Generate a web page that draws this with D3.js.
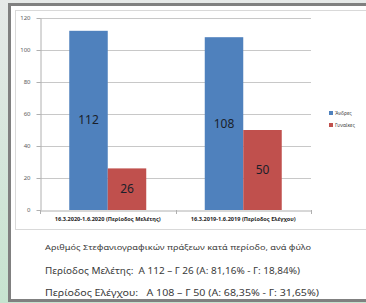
<!DOCTYPE html>
<html><head><meta charset="utf-8">
<script src="https://cdn.jsdelivr.net/npm/d3@7"></script>
<style>html,body{margin:0;padding:0;background:#fff;}svg{display:block;}</style>
</head><body>
<script>
const categories = ["16.3.2020-1.6.2020 (Περίοδος Μελέτης)", "16.3.2019-1.6.2019 (Περίοδος Ελέγχου)"];
const seriesNames = ["Άνδρες", "Γυναίκες"];
const men = [112, 108];
const women = [26, 50];
const yTicks = [0, 20, 40, 60, 80, 100, 120];
const captionLines = [
  "Αριθμός Στεφανιογραφικών πράξεων κατά περίοδο, ανά φύλο",
  "Περίοδος Μελέτης:\u00a0\u00a0Α 112 – Γ 26 (Α: 81,16% - Γ: 18,84%)",
  "Περίοδος Ελέγχου:\u00a0\u00a0\u00a0Α 108 – Γ 50 (Α: 68,35% - Γ: 31,65%)"
];
const colors = ["#4f81bd", "#c0504d"];
const seriesValues = [men, women];

(function () {
const W = 366, H = 303;
const FONT = "'Noto Sans', 'Open Sans', sans-serif";
const svg = d3.select("body").append("svg").attr("width", W).attr("height", H);
const defs = svg.append("defs");
const g1 = defs.append("linearGradient").attr("id", "bg").attr("x1", 0).attr("y1", 0).attr("x2", 0).attr("y2", 1);
g1.append("stop").attr("offset", "0%").attr("stop-color", "#e6e9e8");
g1.append("stop").attr("offset", "100%").attr("stop-color", "#c6e3cf");
svg.append("rect").attr("width", W).attr("height", H).attr("fill", "url(#bg)");

svg.append("rect").attr("x", 9.5).attr("y", 4.5).attr("width", 420).attr("height", 296)
  .attr("fill", "#fff").attr("stroke", "#808080").attr("stroke-width", 3);
svg.append("rect").attr("x", 15.5).attr("y", 10.5).attr("width", 420).attr("height", 219)
  .attr("fill", "none").attr("stroke", "#d9d9d9").attr("stroke-width", 1);

const pL = 40, pR = 311, pT = 18, pB = 210;
const y = d3.scaleLinear().domain([0, 120]).range([pB, pT]);
const x0 = d3.scaleBand().domain(categories).range([pL, pR]).padding(0);
const x1 = d3.scaleBand().domain(seriesNames).range([0, x0.bandwidth()]).paddingInner(0).paddingOuter(0.76);

svg.append("g").selectAll("line").data(yTicks.filter(d => d > 0)).join("line")
  .attr("x1", pL).attr("x2", pR)
  .attr("y1", d => Math.round(y(d)) + 0.5).attr("y2", d => Math.round(y(d)) + 0.5)
  .attr("stroke", "#c8c8c8").attr("stroke-width", 1);

const yAxis = svg.append("g").attr("transform", `translate(${pL + 0.5},0)`)
  .call(d3.axisLeft(y).tickValues(yTicks).tickSize(4).tickPadding(6).tickSizeOuter(0));
yAxis.select(".domain").attr("stroke", "#b0b0b0");
yAxis.selectAll(".tick line").attr("stroke", "#b0b0b0");
yAxis.selectAll("text").attr("font-family", FONT).attr("font-size", 6).attr("fill", "#595959");
yAxis.selectAll(".tick").attr("transform", d => `translate(0,${Math.round(y(d)) + 0.5})`);

const groups = svg.append("g").selectAll("g").data(categories).join("g")
  .attr("transform", d => `translate(${x0(d)},0)`);
groups.selectAll("rect").data((c, i) => seriesNames.map((s, j) => ({ s, v: seriesValues[j][i], j })))
  .join("rect")
  .attr("x", d => x1(d.s)).attr("width", x1.bandwidth())
  .attr("y", d => y(d.v)).attr("height", d => y(0) - y(d.v))
  .attr("fill", d => colors[d.j]);
groups.selectAll("text").data((c, i) => seriesNames.map((s, j) => ({ s, v: seriesValues[j][i], j })))
  .join("text")
  .attr("x", d => x1(d.s) + x1.bandwidth() / 2)
  .attr("y", d => (y(d.v) + y(0)) / 2 + 4)
  .attr("text-anchor", "middle")
  .attr("font-family", FONT).attr("font-size", 12)
  .attr("fill", "#1a1f2a")
  .text(d => d.v);

const xAxis = svg.append("g").attr("transform", `translate(0,${pB + 0.5})`)
  .call(d3.axisBottom(x0).tickSize(0).tickPadding(7));
xAxis.select(".domain").attr("stroke", "#b0b0b0");
xAxis.selectAll("text").attr("font-family", FONT).attr("font-size", 5.6)
  .attr("font-weight", "bold").attr("fill", "#262626");
svg.append("g").selectAll("line").data([pL, x0(categories[1]), pR]).join("line")
  .attr("x1", d => Math.round(d) + 0.5).attr("x2", d => Math.round(d) + 0.5)
  .attr("y1", pB).attr("y2", pB + 4).attr("stroke", "#b0b0b0");

const legend = svg.append("g").selectAll("g").data(seriesNames).join("g")
  .attr("transform", (d, i) => `translate(329,${113 + i * 12})`);
legend.append("rect").attr("x", 0).attr("y", -2).attr("width", 4).attr("height", 4)
  .attr("fill", (d, i) => colors[i]);
legend.append("text").attr("x", 6).attr("y", 2)
  .attr("font-family", FONT).attr("font-size", 5).attr("fill", "#404040").text(d => d);

const capY = [250, 274, 296];
const capSize = [7.5, 9.5, 9.5];
const capLen = [266, 255, 274];
svg.append("g").selectAll("text").data(captionLines).join("text")
  .attr("x", 45).attr("y", (d, i) => capY[i])
  .attr("font-family", FONT).attr("font-size", (d, i) => capSize[i])
  .attr("fill", "#3a3a3a")
  .attr("textLength", (d, i) => capLen[i]).attr("lengthAdjust", "spacingAndGlyphs")
  .text(d => d);
})();
</script>
</body></html>
